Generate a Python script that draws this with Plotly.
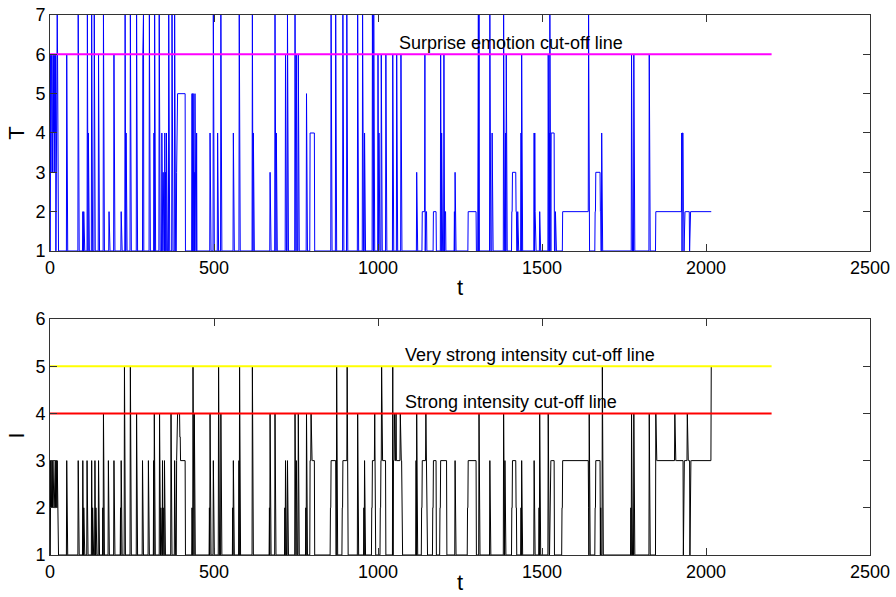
import numpy as np
import plotly.graph_objects as go
from plotly.subplots import make_subplots

# ---------------- data ----------------
N_SAMPLES = 2017          # time samples t = 0 .. 2016
BASE_T = 1
BASE_I = 1

# T signal: segments (start, end, value); everything else = 1
T_start = [2, 3, 4, 6, 7, 8, 9, 11, 12, 13, 14, 16, 17, 19, 20, 22, 23,
           51, 86, 88, 100, 103, 114, 117, 127, 135, 137, 148, 150, 163, 180, 195, 217, 229, 232,
           245, 264, 283, 285, 303, 317, 319, 333, 335, 341, 345, 350, 352, 355, 362, 372, 380,
           382, 386, 387, 433, 435, 440, 442, 447, 488, 498, 511, 521, 559, 561, 577, 579, 617, 620,
           671, 686, 690, 718, 720, 724, 726, 747, 751, 753, 757, 782, 784, 793, 857, 859, 871,
           893, 905, 938, 953, 959, 961, 983, 987, 989, 1000, 1003, 1010, 1024, 1045, 1047, 1057,
           1070, 1118, 1135, 1143, 1145, 1146, 1169, 1191, 1194, 1201, 1204, 1233, 1235, 1275,
           1305, 1306, 1308, 1341, 1343, 1348, 1383, 1385, 1389, 1391, 1408, 1410, 1421, 1426,
           1436, 1438, 1440, 1476, 1478, 1479, 1493, 1495, 1519, 1522, 1524, 1526, 1528, 1541,
           1563, 1642, 1644, 1662, 1664, 1678, 1682, 1773, 1775, 1780, 1827, 1829, 1847, 1926,
           1928, 1931, 1933, 1934, 1950, 1951]
T_end = [2, 3, 5, 6, 7, 8, 10, 11, 12, 13, 15, 16, 17, 19, 21, 22, 23,
         51, 86, 88, 100, 103, 114, 117, 127, 135, 137, 148, 150, 163, 180, 195, 217, 229, 232,
         245, 264, 283, 285, 303, 317, 319, 333, 335, 341, 345, 350, 352, 355, 362, 372, 380,
         382, 386, 412, 433, 437, 440, 442, 447, 488, 498, 511, 521, 559, 561, 577, 579, 617, 620,
         671, 686, 690, 718, 720, 724, 726, 747, 751, 753, 757, 782, 784, 806, 857, 859, 871,
         893, 905, 938, 953, 959, 961, 983, 987, 989, 1000, 1003, 1010, 1024, 1045, 1047, 1057,
         1070, 1118, 1142, 1143, 1145, 1148, 1177, 1191, 1194, 1201, 1206, 1233, 1235, 1299,
         1305, 1306, 1308, 1341, 1343, 1348, 1383, 1385, 1389, 1391, 1409, 1420, 1422, 1426,
         1436, 1438, 1440, 1476, 1478, 1479, 1493, 1495, 1519, 1522, 1524, 1526, 1537, 1541,
         1641, 1642, 1644, 1663, 1677, 1679, 1682, 1773, 1775, 1780, 1827, 1829, 1925, 1926,
         1930, 1932, 1933, 1949, 1950, 2016]
T_val = [6, 3, 6, 4, 6, 3, 6, 4, 6, 3, 6, 4, 6, 3, 6, 7, 6,
         6, 7, 4, 2, 2, 7, 4, 7, 7, 4, 6, 4, 7, 2, 6, 2, 7, 4,
         7, 7, 6, 7, 7, 4, 7, 7, 7, 4, 3, 4, 3, 4, 7, 7, 7,
         7, 3, 5, 5, 5, 3, 5, 4, 4, 7, 4, 7, 4, 3, 7, 7, 7, 4,
         3, 7, 4, 6, 4, 7, 7, 7, 6, 4, 6, 5, 3, 4, 7, 4, 7,
         7, 7, 7, 7, 4, 4, 7, 7, 4, 6, 4, 6, 6, 6, 6, 6,
         6, 3, 2, 6, 4, 2, 2, 6, 4, 6, 2, 2, 3, 2,
         4, 7, 7, 7, 4, 4, 7, 7, 4, 6, 2, 3, 2, 2,
         4, 6, 6, 4, 4, 2, 2, 2, 6, 4, 7, 7, 4, 2,
         2, 7, 4, 2, 3, 2, 4, 6, 4, 6, 6, 4, 2, 4,
         4, 2, 1, 2, 1, 2]

# I signal: segments (start, end, value); everything else = 1
I_start = [2, 3, 4, 5, 6, 7, 9, 10, 11, 12, 14, 15, 16, 17, 19, 20, 22, 23,
           51, 53, 86, 88, 100, 103, 113, 115, 127, 130, 137, 140, 148, 150, 161, 163, 178, 180,
           195, 197, 215, 217, 227, 229, 245, 247, 264, 282, 284, 300, 302, 316, 318, 320, 334,
           336, 338, 343, 345, 349, 351, 369, 371, 380, 382, 386, 387, 396, 398, 433, 436, 438,
           440, 442, 486, 488, 490, 498, 500, 514, 516, 521, 523, 557, 559, 576, 578, 580, 617, 619,
           669, 671, 673, 686, 688, 716, 718, 720, 724, 747, 749, 751, 757, 780, 782, 793, 796,
           855, 857, 874, 891, 893, 906, 938, 957, 959, 961, 981, 983, 990, 1007, 1009, 1011,
           1045, 1047, 1050, 1055, 1068, 1116, 1118, 1120, 1133, 1135, 1146, 1167, 1169, 1189,
           1191, 1235, 1273, 1275, 1308, 1310, 1341, 1343, 1383, 1385, 1387, 1389, 1408, 1410,
           1421, 1436, 1438, 1440, 1476, 1478, 1491, 1493, 1495, 1519, 1521, 1524, 1526, 1561,
           1563, 1642, 1644, 1662, 1664, 1679, 1684, 1771, 1773, 1775, 1780, 1827, 1829, 1847,
           1848, 1905, 1931, 1933, 1943, 1951, 2016]
I_end = [2, 3, 4, 5, 6, 8, 9, 10, 11, 13, 14, 15, 16, 18, 19, 21, 22, 23,
         51, 53, 86, 88, 100, 103, 113, 115, 127, 130, 137, 140, 148, 150, 161, 163, 178, 180,
         195, 197, 215, 217, 227, 229, 245, 247, 264, 282, 284, 300, 302, 316, 318, 320, 334,
         336, 338, 343, 345, 349, 351, 369, 371, 380, 382, 386, 395, 397, 412, 433, 436, 438,
         440, 442, 486, 488, 490, 498, 500, 514, 516, 521, 523, 557, 559, 576, 578, 580, 617, 619,
         669, 671, 673, 686, 688, 716, 718, 720, 724, 747, 749, 751, 757, 780, 782, 806, 796,
         856, 871, 874, 892, 905, 906, 938, 957, 959, 961, 982, 989, 990, 1008, 1023, 1011,
         1045, 1072, 1050, 1055, 1068, 1116, 1118, 1120, 1134, 1148, 1146, 1168, 1177, 1190,
         1209, 1235, 1274, 1299, 1308, 1310, 1341, 1343, 1383, 1385, 1387, 1389, 1409, 1420,
         1422, 1436, 1438, 1440, 1476, 1478, 1491, 1493, 1495, 1519, 1521, 1525, 1537, 1562,
         1641, 1642, 1644, 1663, 1677, 1679, 1684, 1771, 1773, 1775, 1780, 1827, 1829, 1847,
         2015, 1905, 1931, 1933, 1943, 1951, 2016]
I_val = [3, 2, 3, 2, 3, 2, 3, 2, 3, 2, 3, 2, 3, 2, 3, 2, 3, 2,
         3, 2, 3, 2, 3, 2, 3, 2, 3, 2, 3, 2, 3, 2, 2, 4, 3, 2,
         3, 2, 2, 3, 5, 3, 5, 2, 4, 3, 2, 3, 2, 3, 4, 4, 4,
         4, 2, 3, 2, 3, 2, 4, 2, 3, 2, 3, 4, 3.5, 3, 2, 5, 4,
         4, 3, 2, 4, 2, 3, 2, 5, 2, 4, 3, 2, 3, 3, 5, 4, 5, 3,
         2, 4, 2, 4, 2, 2, 3, 3, 3, 4, 2, 3, 4, 2, 4, 3, 4,
         2, 3, 5, 2, 3, 5, 4, 2, 3, 2, 2, 3, 4, 2, 3, 5,
         5, 3, 4, 4, 4, 3, 4, 3, 2, 3, 4, 2, 3, 2,
         3, 3, 2, 3, 4, 2, 3, 2, 4, 4, 3, 2, 2, 3,
         2, 2, 3, 2, 3, 2, 2, 4, 4, 4, 2, 2, 3, 2,
         3, 2, 4, 2, 3, 2, 5, 2, 4, 2, 4, 4, 2, 4,
         3, 4, 1, 2, 4, 1, 5]

# cut-off lines
CUTOFF_X = [0, 2200]
SURPRISE_CUTOFF = 6
VERY_STRONG_CUTOFF = 5
STRONG_CUTOFF = 4

X_TICKS = [0, 500, 1000, 1500, 2000, 2500]
T_TICKS = [1, 2, 3, 4, 5, 6, 7]
I_TICKS = [1, 2, 3, 4, 5, 6]


def build(base, starts, ends, vals):
    y = np.full(N_SAMPLES, float(base))
    for s, e, v in zip(starts, ends, vals):
        y[s:e + 1] = v
    return y


t = np.arange(N_SAMPLES)
T = build(BASE_T, T_start, T_end, T_val)
I = build(BASE_I, I_start, I_end, I_val)

FONT = "Liberation Sans, Arial, sans-serif"

fig = make_subplots(rows=2, cols=1, vertical_spacing=0.126)

fig.add_trace(go.Scatter(x=t, y=T, mode="lines", line=dict(color="#0000FF", width=1),
                         showlegend=False, hoverinfo="skip"), row=1, col=1)
fig.add_trace(go.Scatter(x=CUTOFF_X, y=[SURPRISE_CUTOFF] * 2, mode="lines",
                         line=dict(color="#FF00FF", width=2), showlegend=False,
                         hoverinfo="skip"), row=1, col=1)

fig.add_trace(go.Scatter(x=t, y=I, mode="lines", line=dict(color="#000000", width=1),
                         showlegend=False, hoverinfo="skip"), row=2, col=1)
fig.add_trace(go.Scatter(x=CUTOFF_X, y=[VERY_STRONG_CUTOFF] * 2, mode="lines",
                         line=dict(color="#FFFF00", width=2), showlegend=False,
                         hoverinfo="skip"), row=2, col=1)
fig.add_trace(go.Scatter(x=CUTOFF_X, y=[STRONG_CUTOFF] * 2, mode="lines",
                         line=dict(color="#FF0000", width=2), showlegend=False,
                         hoverinfo="skip"), row=2, col=1)

axis_common = dict(showline=True, linecolor="#333333", linewidth=1, mirror="ticks",
                   ticks="inside", ticklen=7, tickcolor="#333333", showgrid=False,
                   zeroline=False, automargin=False, ticklabeloverflow="allow",
                   tickfont=dict(family=FONT, size=18, color="#000000"))

fig.update_xaxes(range=[0, 2500], tickvals=X_TICKS, **axis_common)
fig.update_yaxes(range=[1, 7], tickvals=T_TICKS, row=1, col=1, **axis_common)
fig.update_yaxes(range=[1, 6], tickvals=I_TICKS, row=2, col=1, **axis_common)

fig.update_layout(
    width=896, height=597,
    margin=dict(l=50, r=26, t=15, b=42),
    plot_bgcolor="white", paper_bgcolor="white",
    font=dict(family=FONT, color="#000000"),
)
fig.update_yaxes(domain=[0.563, 1.0], row=1, col=1)
fig.update_yaxes(domain=[0.0, 0.437], row=2, col=1)

ann_font = dict(family=FONT, size=18, color="#000000")
fig.add_annotation(x=1058, y=6.0, xref="x", yref="y", text="Surprise emotion cut-off line",
                   showarrow=False, xanchor="left", yanchor="bottom", font=ann_font, yshift=-1)
fig.add_annotation(x=1076, y=5.0, xref="x2", yref="y2", text="Very strong intensity cut-off line",
                   showarrow=False, xanchor="left", yanchor="bottom", font=ann_font, yshift=-1)
fig.add_annotation(x=1076, y=4.0, xref="x2", yref="y2", text="Strong intensity cut-off line",
                   showarrow=False, xanchor="left", yanchor="bottom", font=ann_font, yshift=-1)

lab_font = dict(family=FONT, size=22, color="#000000")
lab_common = dict(xref="paper", yref="paper", showarrow=False, font=lab_font,
                  xanchor="center", yanchor="middle")
fig.add_annotation(x=-0.041, y=0.781, text="T", textangle=-90, **lab_common)
fig.add_annotation(x=-0.041, y=0.222, text="I", textangle=-90, **lab_common)
fig.add_annotation(x=0.5, y=0.496, text="t", **lab_common)
fig.add_annotation(x=0.5, y=-0.0775, xref="paper", yref="paper", text="t", showarrow=False,
                   font=lab_font, xanchor="center", yanchor="bottom")

# remove the default page margin so the figure sits at the top-left corner
fig.write_html("out.html", config={"displayModeBar": False},
               post_script="document.body.style.margin='0';")
